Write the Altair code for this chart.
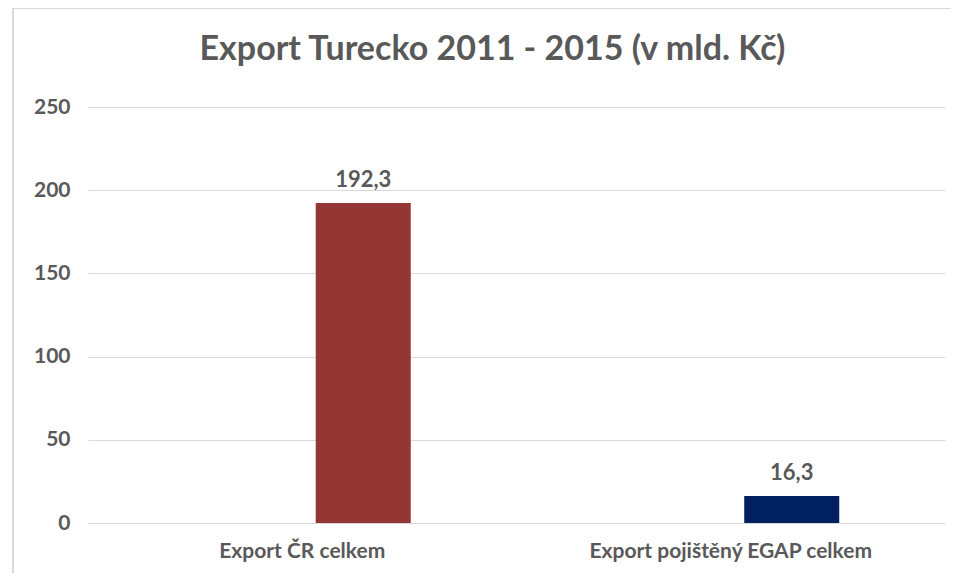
import altair as alt
import pandas as pd

categories = ["Export ČR celkem", "Export pojištěný EGAP celkem"]
values = [192.3, 16.3]
labels = ["192,3", "16,3"]
series = ["S2", "S2"]
colors = ["#943634", "#002060"]
y_ticks = [0, 50, 100, 150, 200, 250]

df = pd.DataFrame({"cat": categories, "val": values, "lab": labels, "ser": series})

FONT = "Lato"
GRAY = "#595959"

x = alt.X("cat:N", sort=categories, title=None,
          scale=alt.Scale(paddingInner=0, paddingOuter=0),
          axis=alt.Axis(labelAngle=0, labelFontSize=21, labelColor=GRAY, labelFont=FONT,
                        labelFontWeight="bold", domain=False, ticks=False, labelPadding=17,
                        labelLimit=0))
xo = alt.XOffset("ser:N", scale=alt.Scale(domain=["S1", "S2"], paddingInner=0.221, paddingOuter=0.867))
y = alt.Y("val:Q", title=None, scale=alt.Scale(domain=[0, 250], nice=False),
          axis=alt.Axis(values=y_ticks, labelFontSize=21, labelColor=GRAY, labelFont=FONT,
                        labelFontWeight="bold", domain=False, ticks=False, labelPadding=18,
                        gridColor="#d9d9d9", gridWidth=1))

bars = alt.Chart(df).mark_bar().encode(
    x=x, xOffset=xo, y=y,
    color=alt.Color("cat:N", scale=alt.Scale(domain=categories, range=colors), legend=None),
)

text = alt.Chart(df).mark_text(dy=-23, fontSize=22, fontWeight="bold", color=GRAY, font=FONT).encode(
    x=x, xOffset=xo, y=y, text="lab:N")

top_border = alt.Chart(df).mark_rule(color="#d9d9d9", strokeWidth=2).encode(
    x=alt.value(-75), x2=alt.value(880), y=alt.value(-99))
left_border = alt.Chart(df).mark_rule(color="#d9d9d9", strokeWidth=2).encode(
    x=alt.value(-75), y=alt.value(-99), y2=alt.value(480))

chart = alt.layer(bars, text, top_border, left_border).properties(
    width=857, height=416,
    title=alt.TitleParams("Export Turecko 2011 - 2015 (v mld. Kč)", fontSize=34, font=FONT,
                          fontWeight="bold", color=GRAY, dx=-24, offset=-87,
                          baseline="alphabetic"),
    autosize=alt.AutoSizeParams(type="none"),
    padding={"left": 80, "top": 99, "right": 6, "bottom": 50},
).configure_view(stroke=None)

chart.save("out.html", embed_options={"renderer": "svg", "actions": False})
